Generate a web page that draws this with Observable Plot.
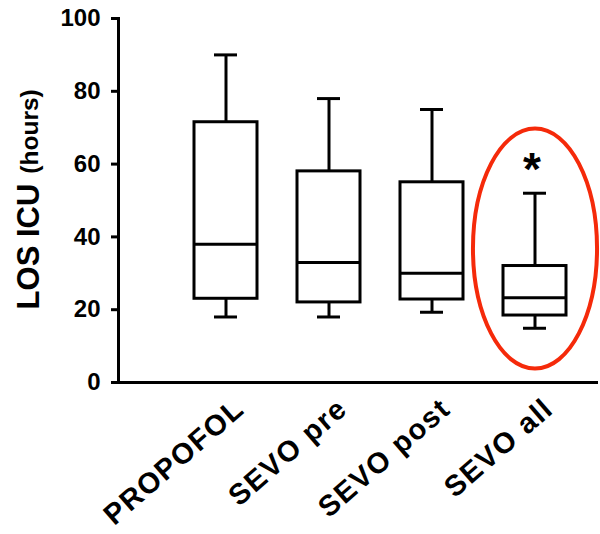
<!DOCTYPE html>
<html>
<head>
<meta charset="utf-8">
<script src="https://cdn.jsdelivr.net/npm/d3@7"></script>
<script src="https://cdn.jsdelivr.net/npm/@observablehq/plot@0.6"></script>
<style>
  html, body { margin: 0; padding: 0; background: #fff; }
  #chart svg { font-family: "Liberation Sans", Arial, sans-serif; }
  #chart svg g[aria-label="x-axis tick label"] text { letter-spacing: 1.5px; }
</style>
</head>
<body>
<div id="chart"></div>
<script>
const groups = ["PROPOFOL", "SEVO pre", "SEVO post", "SEVO all"];
const minV = [18, 18, 19.3, 14.9];
const q1V = [23, 22, 22.8, 18.4];
const medV = [38, 33, 30, 23.3];
const q3V = [71.5, 58, 55, 32];
const maxV = [90, 78, 75, 52];
const yTicks = [0, 20, 40, 60, 80, 100];
const starGroup = "SEVO all";
const starY = 59.6;
const ellipseCenterY = 36.8;
const yLabelMain = "LOS ICU";
const yLabelUnit = "(hours)";

const data = groups.map((g, i) => ({group: g, min: minV[i], q1: q1V[i], median: medV[i], q3: q3V[i], max: maxV[i]}));

// custom ellipse symbol (vertical ellipse) for the red highlight
const ellipseSymbol = {
  draw(context, size) {
    const r = Math.sqrt(size / Math.PI);
    const ry = r, rx = r * 0.517;
    const k = 0.5523;
    context.moveTo(rx, 0);
    context.bezierCurveTo(rx, k * ry, k * rx, ry, 0, ry);
    context.bezierCurveTo(-k * rx, ry, -rx, k * ry, -rx, 0);
    context.bezierCurveTo(-rx, -k * ry, -k * rx, -ry, 0, -ry);
    context.bezierCurveTo(k * rx, -ry, rx, -k * ry, rx, 0);
    context.closePath();
  }
};

const chart = Plot.plot({
  width: 600,
  height: 534,
  marginLeft: 118,
  marginRight: 2,
  marginTop: 18,
  marginBottom: 152,
  style: {fontFamily: "Liberation Sans, Arial, sans-serif", background: "white"},
  x: {type: "band", domain: groups, range: [173.25, 587.25], paddingInner: 0.39, paddingOuter: 0.195},
  y: {domain: [0, 100]},
  marks: [
    Plot.axisY({ticks: yTicks, tickSize: 7, tickPadding: 11, tickFormat: d => String(d), fontSize: 24, fontWeight: "bold", strokeWidth: 3, label: null}),
    Plot.axisX({tickSize: 0, tickRotate: -41, fontSize: 29, fontWeight: "bold", tickPadding: 22, dx: 14, label: null}),
    Plot.frame({anchor: "left", strokeWidth: 3}),
    Plot.ruleY([0], {strokeWidth: 3}),
    // whiskers
    Plot.ruleX(data, {x: "group", y1: "q3", y2: "max", strokeWidth: 3}),
    Plot.ruleX(data, {x: "group", y1: "min", y2: "q1", strokeWidth: 3}),
    Plot.tickY(data, {x: "group", y: "max", strokeWidth: 3, insetLeft: 20, insetRight: 20}),
    Plot.tickY(data, {x: "group", y: "min", strokeWidth: 3, insetLeft: 20, insetRight: 20}),
    // boxes
    Plot.barY(data, {x: "group", y1: "q1", y2: "q3", fill: "white", stroke: "black", strokeWidth: 3}),
    Plot.tickY(data, {x: "group", y: "median", strokeWidth: 3}),
    // significance star
    Plot.text([starGroup], {x: d => d, y: [starY], text: ["*"], fontSize: 46, fontWeight: "bold", dy: 5, dx: -3}),
    // red highlight ellipse
    Plot.dot([starGroup], {x: d => d, y: [ellipseCenterY], r: 120, symbol: ellipseSymbol, stroke: "#f52a0a", strokeWidth: 4, fill: "none"}),
    // y axis label (two sizes)
    Plot.text([yLabelMain], {frameAnchor: "left", y: [56], text: d => d, rotate: -90, textAnchor: "end", fontSize: 31, fontWeight: "bold", dx: -89, dy: 5}),
    Plot.text([yLabelUnit], {frameAnchor: "left", y: [56], text: d => d, rotate: -90, textAnchor: "start", fontSize: 24.5, fontWeight: "bold", dx: -88, dy: -5})
  ]
});
document.getElementById("chart").appendChild(chart);
</script>
</body>
</html>
